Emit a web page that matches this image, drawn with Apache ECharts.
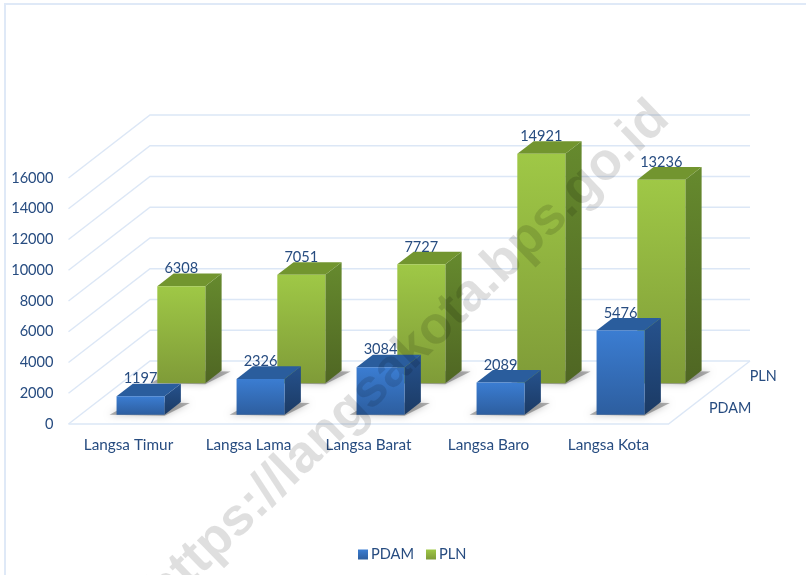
<!DOCTYPE html>
<html><head><meta charset="utf-8">
<style>html,body{margin:0;padding:0;background:#fff}#c{width:806px;height:575px}</style>
<script src="https://cdn.jsdelivr.net/npm/echarts@6/dist/echarts.min.js"></script>
</head><body><div id="c"></div>
<script>
const categories = ['Langsa Timur','Langsa Lama','Langsa Barat','Langsa Baro','Langsa Kota'];
const pdam = [1197,2326,3084,2089,5476];
const pln = [6308,7051,7727,14921,13236];
const depthNames = ['PDAM','PLN'];
const ticks = [0,2000,4000,6000,8000,10000,12000,14000,16000];

const FONT = 'Lato, "Open Sans", sans-serif';
const TXT = '#274c80';
const WALL = '#dce7f6';
const DX = 81.5, DY = -63;          // oblique projection of the depth axis
const BAR_W = 0.4, BAR_D = 0.2;     // bar width (share of band) and depth (share of the axis)

function vgrad(a,b){return {type:'linear',x:0,y:0,x2:0,y2:1,colorStops:[{offset:0,color:a},{offset:1,color:b}]};}
const styles = {
  PDAM:{front:vgrad('#3b7dd2','#2d5e9f'),side:vgrad('#26528d','#1b3a64'),top:'#2a5d9d'},
  PLN:{front:vgrad('#9fc846','#7f9b38'),side:vgrad('#668a2e','#4f6623'),top:'#72952f'}
};
function poly(points,fill,extra){
  return Object.assign({type:'polygon',shape:{points:points},style:{fill:fill}},extra||{});
}
function barRenderer(row,name){
  const t0 = (row+0.5)/2 - BAR_D/2 - 0.002, t1 = t0 + BAR_D;
  const s = styles[name];
  return function(params,api){
    const v = api.value(1);
    const base = api.coord([api.value(0),0]);
    const top = api.coord([api.value(0),v]);
    const w = api.size([1,0])[0]*BAR_W;
    const P = (x,y,t)=>[x+DX*t,y+DY*t];
    const L = base[0]-w/2, R = base[0]+w/2, B = base[1], T = top[1];
    const fl=P(L,B,t0), fr=P(R,B,t0), br=P(R,B,t1), bl=P(L,B,t1);
    const tfl=P(L,T,t0), tfr=P(R,T,t0), tbr=P(R,T,t1), tbl=P(L,T,t1);
    return {type:'group',children:[
      {type:'polygon',shape:{points:[[fl[0]-7,fl[1]],[fr[0],fr[1]+1],[br[0]+9,br[1]+1],[bl[0],bl[1]]]},
        style:{fill:'rgba(60,60,60,0.4)',shadowBlur:7,shadowColor:'rgba(0,0,0,0.6)'}},
      poly([fr,br,tbr,tfr],s.side),
      poly([tfl,tfr,tbr,tbl],s.top),
      poly([fl,fr,tfr,tfl],s.front),
      {type:'text',style:{text:String(v),x:(fl[0]+fr[0])/2,y:tfl[1]-17.5,align:'center',verticalAlign:'middle',
        fill:TXT,font:'14.6px '+FONT}}
    ]};
  };
}
function wallRenderer(params,api){
  const c = params.coordSys;
  const y = api.coord([0,api.value(0)])[1];
  const pts = [[c.x,y],[c.x+DX,y+DY],[c.x+c.width+DX,y+DY]];
  const children = [{type:'polyline',shape:{points:pts},style:{fill:'none',stroke:WALL,lineWidth:1.4}}];
  if(api.value(0)===0){
    children.push({type:'polyline',shape:{points:[[c.x,y],[c.x+c.width,y],[c.x+c.width+DX,y+DY]]},
      style:{fill:'none',stroke:WALL,lineWidth:1.4}});
  }
  return {type:'group',children:children};
}
function depthRenderer(params,api){
  const c = params.coordSys;
  const t = (api.value(0)+0.5)/2;
  return {type:'text',style:{text:depthNames[api.value(0)],x:c.x+c.width+DX*t+20,y:c.y+c.height+DY*t,
    align:'left',verticalAlign:'middle',fill:TXT,font:'14.4px '+FONT}};
}
const chart = echarts.init(document.getElementById('c'),null,{renderer:'canvas'});
chart.setOption({
  animation:false,
  backgroundColor:'#fff',
  grid:{left:68.5,top:178,right:137.5,bottom:151,containLabel:false},
  legend:{data:[{name:'PDAM',icon:'rect'},{name:'PLN',icon:'rect'}],left:353,top:542,itemWidth:10,itemHeight:10,itemGap:12,
    selectedMode:false,textStyle:{color:TXT,fontFamily:'Lato, "Open Sans", sans-serif',fontSize:14.6,padding:[0,0,0,-2]}},
  xAxis:{type:'category',data:categories,axisLine:{show:false},axisTick:{show:false},splitLine:{show:false},
    axisLabel:{color:TXT,fontFamily:FONT,fontSize:15.3,margin:14,interval:0}},
  yAxis:{type:'value',min:0,max:16000,interval:2000,axisLine:{show:false},axisTick:{show:false},splitLine:{show:false},
    axisLabel:{color:TXT,fontFamily:FONT,fontSize:14.6,margin:15,formatter:v=>String(v)}},
  graphic:[
    {type:'rect',z:0,silent:true,shape:{x:5,y:4,width:1000,height:800},style:{fill:'none',stroke:'#dfe9f7',lineWidth:2}},
    {type:'text',z:100,silent:true,x:408,y:355,rotation:44*Math.PI/180,
      style:{text:'https://langsakota.bps.go.id',align:'center',verticalAlign:'middle',
        font:'bold 53px "Liberation Sans", sans-serif',fill:'rgba(0,0,0,0.125)'}}
  ],
  series:[
    {name:'walls',type:'custom',silent:true,clip:false,z:1,data:ticks.map(v=>[v]),encode:{x:[],y:0},renderItem:wallRenderer},
    {name:'depth',type:'custom',silent:true,clip:false,z:1,data:depthNames.map((n,i)=>[i]),encode:{x:0,y:[]},renderItem:depthRenderer},
    {name:'PLN',type:'custom',silent:true,clip:false,z:2,itemStyle:{color:styles.PLN.front},
      data:pln.map((v,i)=>[i,v]),encode:{x:0,y:1},renderItem:barRenderer(1,'PLN')},
    {name:'PDAM',type:'custom',silent:true,clip:false,z:3,itemStyle:{color:styles.PDAM.front},
      data:pdam.map((v,i)=>[i,v]),encode:{x:0,y:1},renderItem:barRenderer(0,'PDAM')}
  ]
});
</script></body></html>
